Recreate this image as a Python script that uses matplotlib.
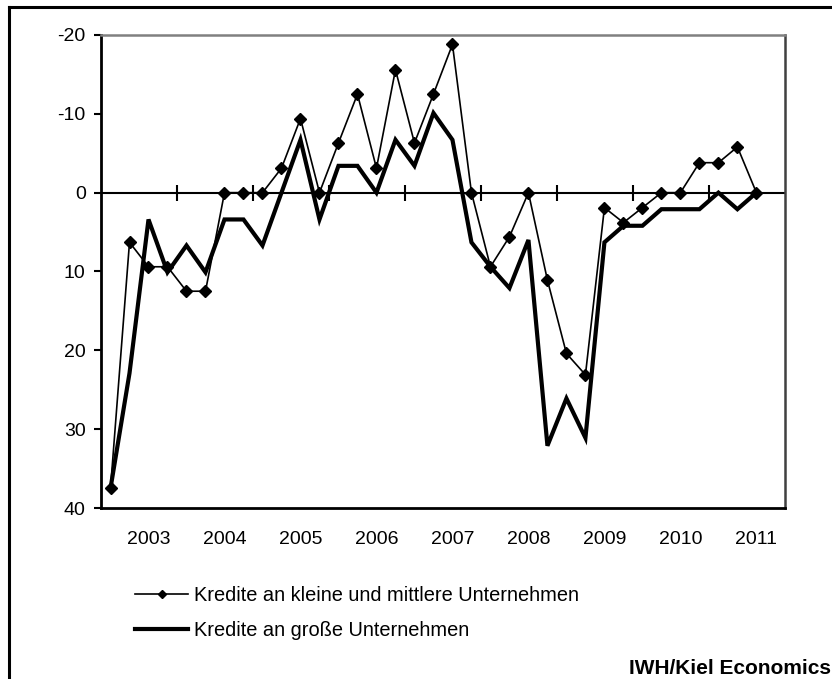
import numpy as np
import matplotlib
import matplotlib.pyplot as plt
from matplotlib.lines import Line2D

matplotlib.use('agg')

plt.rcParams['font.family'] = ['Liberation Sans', 'DejaVu Sans']

# quarterly values (inverted scale, percent balance)
kmu = [37.5, 6.3, 9.4, 9.4, 12.5, 12.5, 0.0, 0.0, 0.0, -3.1, -9.4, 0.0,
       -6.3, -12.5, -3.1, -15.6, -6.3, -12.5, -18.8, 0.0, 9.4, 5.6, 0.0, 11.1,
       20.4, 23.1, 1.9, 3.8, 1.9, 0.0, 0.0, -3.8, -3.8, -5.8, 0.0]
gross = [37.5, 22.9, 3.4, 10.1, 6.7, 10.1, 3.4, 3.4, 6.7, 0.0, -6.7, 3.4,
         -3.4, -3.4, 0.0, -6.7, -3.4, -10.1, -6.7, 6.3, 9.4, 12.1, 6.0, 32.1,
         26.1, 31.1, 6.3, 4.2, 4.2, 2.1, 2.1, 2.1, 0.0, 2.1, 0.0]
years = ['2003', '2004', '2005', '2006', '2007', '2008', '2009', '2010', '2011']
labels = ['Kredite an kleine und mittlere Unternehmen',
          'Kredite an große Unternehmen']

q = np.arange(len(kmu))

fig = plt.figure(figsize=(8.32, 6.79), dpi=100)
ax = fig.add_axes([0.1214, 0.2518, 0.822, 0.6967])

l2, = ax.plot(q, gross, color='black', lw=3.0, zorder=3, solid_joinstyle='miter')
l1, = ax.plot(q, kmu, color='black', lw=1.2, marker='D', ms=5.8, zorder=4)

ax.set_xlim(-0.5, 35.5)
ax.set_ylim(40, -20)

# zero line with year separators
ax.axhline(0, color='black', lw=1.5, zorder=2)
bounds = np.arange(len(years) - 1) * 4 + 3.5
ax.plot(bounds, np.zeros(len(bounds)), ls='none', marker='|', ms=11,
        mew=1.5, color='black', zorder=2)

ax.set_yticks([-20, -10, 0, 10, 20, 30, 40])
ax.set_yticklabels(['-20', '-10', '0', '10', '20', '30', '40'])
ax.tick_params(axis='y', direction='out', length=5, width=1.5, pad=6,
               labelsize=14)
ax.set_xticks(np.arange(len(years)) * 4 + 2)
ax.set_xticklabels(years)
ax.tick_params(axis='x', length=0, pad=16.5, labelsize=14)

ax.spines['left'].set_linewidth(2)
ax.spines['bottom'].set_linewidth(2)
ax.spines['top'].set_color('#808080')
ax.spines['top'].set_linewidth(1.8)
ax.spines['right'].set_color('#404040')
ax.spines['right'].set_linewidth(1.8)

h1 = Line2D([], [], color='black', lw=1.2, marker='D', ms=4.5)
h2 = Line2D([], [], color='black', lw=3.0)
fig.legend([h1, h2], labels, loc='upper left', bbox_to_anchor=(135 / 832, 0.137),
           bbox_transform=fig.transFigure, frameon=False, fontsize=14.4,
           handlelength=2.65, handletextpad=0.3, labelspacing=0.78,
           borderpad=0, borderaxespad=0)

fig.text(629 / 832, 1 - 668 / 679, 'IWH/Kiel Economics', fontsize=15,
         fontweight='bold', va='center', ha='left')

# outer frame (cropped on right and bottom)
fig.add_artist(Line2D([8.5 / 832, 8.5 / 832], [0, 1 - 6.5 / 679], color='black',
                      lw=2.2, transform=fig.transFigure))
fig.add_artist(Line2D([8.5 / 832, 1], [1 - 6.5 / 679, 1 - 6.5 / 679], color='black',
                      lw=2.2, transform=fig.transFigure))

fig.savefig('out.png', dpi=100)
